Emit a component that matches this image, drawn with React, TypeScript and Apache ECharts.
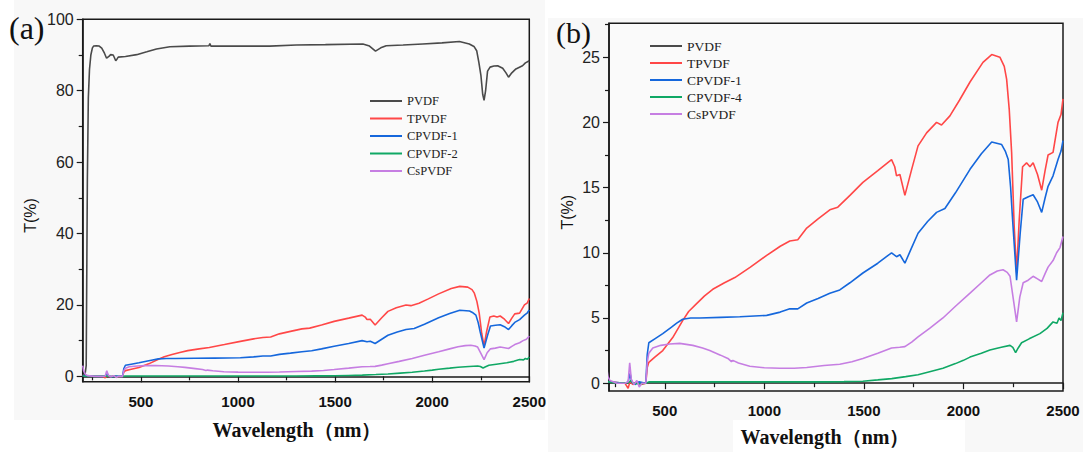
import React, { useEffect, useRef } from "react";
import * as echarts from "echarts";

// ---- data: [wavelength (nm), T (%)] ----
const PVDF: number[][] = [
  [200, 0.3], [212, 0.5], [218, 3], [224, 55], [229, 78], [235, 86], [242, 90], [250, 92], [256, 92.5], [270, 92.6],
  [285, 92.5], [298, 91.9], [312, 90.5], [323, 89.1], [335, 89.6], [344, 90.1], [357, 90.0], [363, 89.3],
  [370, 88.4], [377, 88.9], [383, 89.4], [420, 89.6], [478, 90.1], [530, 90.9], [580, 91.7], [649, 92.3],
  [750, 92.5], [850, 92.6], [855, 93.2], [860, 92.5], [1000, 92.5], [1163, 92.5], [1300, 92.8], [1450, 92.9],
  [1643, 93.1], [1677, 92.5], [1708, 91.1], [1735, 92.0], [1763, 92.6], [1850, 92.8], [1951, 93.1],
  [2050, 93.4], [2140, 93.8], [2191, 93.1], [2215, 92.4], [2229, 91.2], [2240, 88], [2251, 84.2], [2260, 79],
  [2267, 77.3], [2275, 80], [2285, 85.5], [2298, 86.6], [2318, 86.9], [2337, 87.0], [2363, 86.3], [2380, 85.0],
  [2393, 83.8], [2410, 85.0], [2431, 86.1], [2465, 87.0], [2480, 87.8], [2500, 88.4],
];

const TPVDF: number[][] = [
  [200, 0.2], [220, 0.1], [300, 0], [316, -0.4], [325, 0.1], [340, -0.1], [360, 0.1], [380, -0.1], [405, 0],
  [412, 1.2], [420, 1.6], [450, 2.0], [490, 2.5], [540, 3.5], [590, 4.8], [620, 5.5], [660, 6.1], [700, 6.7],
  [741, 7.2], [800, 7.7], [852, 8.1], [930, 8.9], [1012, 9.8], [1080, 10.5], [1128, 10.9], [1168, 11.0],
  [1213, 11.9], [1270, 12.6], [1329, 13.3], [1369, 13.5], [1430, 14.4], [1495, 15.4], [1570, 16.3],
  [1639, 17.15], [1655, 16.6], [1664, 15.9], [1681, 16.0], [1706, 14.4], [1740, 16.4], [1772, 18.2],
  [1815, 19.2], [1865, 20.0], [1890, 19.8], [1932, 20.5], [1980, 21.7], [2033, 23.1], [2098, 24.6],
  [2142, 25.2], [2183, 25.0], [2205, 24.3], [2217, 23.3], [2230, 21], [2242, 17.7], [2255, 12], [2267, 8.5],
  [2280, 12.5], [2297, 16.6], [2317, 16.9], [2334, 16.6], [2350, 16.9], [2372, 16.0], [2393, 14.8],
  [2410, 16.3], [2425, 17.5], [2450, 17.7], [2475, 20.0], [2490, 20.6], [2500, 21.8],
];

const CPVDF1: number[][] = [
  [200, 0.2], [220, 0.1], [300, 0], [316, 0.1], [326, 0.75], [334, 0.1], [350, -0.1], [370, 0.1], [405, 0],
  [412, 2.2], [420, 3.1], [450, 3.4], [490, 3.8], [534, 4.3], [560, 4.6], [590, 4.9], [630, 5.0], [676, 5.0],
  [780, 5.05], [877, 5.1], [1012, 5.2], [1080, 5.45], [1128, 5.7], [1168, 5.7], [1213, 6.15], [1270, 6.5],
  [1329, 6.9], [1379, 7.15], [1430, 7.7], [1495, 8.45], [1570, 9.2], [1639, 10.0], [1664, 9.7], [1681, 9.85],
  [1706, 9.2], [1740, 10.4], [1772, 11.5], [1820, 12.4], [1865, 13.1], [1907, 13.4], [1960, 14.6],
  [2033, 16.4], [2090, 17.6], [2142, 18.5], [2192, 18.3], [2210, 17.8], [2225, 17.15], [2237, 15.0],
  [2247, 12.5], [2267, 7.9], [2285, 11.5], [2300, 14.1], [2326, 14.3], [2350, 14.45], [2372, 13.9],
  [2393, 13.1], [2410, 14.2], [2425, 15.1], [2450, 15.9], [2475, 17.15], [2490, 17.8], [2500, 18.6],
];

const CPVDF_GREEN: number[][] = [
  [200, 0.1], [220, 0.1], [260, 0], [320, 0.05], [330, 0.2], [340, 0], [380, -0.05], [405, 0], [420, 0.1],
  [700, 0.1], [1000, 0.1], [1300, 0.1], [1400, 0.12], [1495, 0.15], [1570, 0.25], [1640, 0.35],
  [1710, 0.5], [1772, 0.65], [1835, 0.9], [1897, 1.15], [1960, 1.5], [2000, 1.75], [2033, 2.0], [2090, 2.3],
  [2133, 2.55], [2190, 2.75], [2234, 2.9], [2248, 2.75], [2262, 2.35], [2275, 2.7], [2292, 3.1],
  [2330, 3.4], [2384, 3.8], [2420, 4.2], [2450, 4.7], [2470, 4.6], [2480, 5.0], [2490, 4.8], [2500, 5.4],
];

const CSPVDF: number[][] = [
  [200, 3.0], [205, 1.5], [215, 0.5], [225, 0.2], [260, 0], [300, 0], [316, 0.1], [324, 1.56], [332, 0.3],
  [345, -0.1], [360, 0.2], [372, -0.3], [385, 0], [405, 0], [412, 1.6], [420, 2.3], [440, 2.7], [480, 2.9],
  [525, 3.0], [575, 3.05], [641, 2.9], [690, 2.7], [726, 2.5], [780, 2.15], [817, 1.9], [835, 1.65],
  [842, 1.75], [870, 1.55], [927, 1.3], [1000, 1.18], [1078, 1.15], [1150, 1.15], [1213, 1.2], [1300, 1.35],
  [1379, 1.45], [1440, 1.65], [1495, 1.9], [1570, 2.3], [1639, 2.7], [1680, 2.75], [1706, 2.8], [1740, 3.15],
  [1772, 3.55], [1830, 4.2], [1897, 5.0], [1960, 5.9], [2033, 6.9], [2090, 7.7], [2133, 8.3], [2170, 8.6],
  [2199, 8.7], [2220, 8.5], [2234, 8.2], [2250, 6.5], [2267, 4.7], [2283, 6.6], [2300, 7.7], [2325, 7.9],
  [2350, 8.2], [2372, 8.0], [2393, 7.8], [2410, 8.4], [2425, 8.9], [2450, 9.4], [2468, 10.0], [2485, 10.4],
  [2500, 11.25],
];

// ---- names & ticks ----
const NAMES_A = ["PVDF", "TPVDF", "CPVDF-1", "CPVDF-2", "CsPVDF"];
const NAMES_B = ["PVDF", "TPVDF", "CPVDF-1", "CPVDF-4", "CsPVDF"];
const COLORS = ["#4a4a4a", "#ff4747", "#1567dc", "#10a865", "#c67ee2"];
const X_MAJOR = [500, 1000, 1500, 2000, 2500];
const X_MINOR = [250, 750, 1250, 1750, 2250];
const YA_MAJOR = [0, 20, 40, 60, 80, 100];
const YA_MINOR = [10, 30, 50, 70, 90];
const YB_MAJOR = [0, 5, 10, 15, 20, 25];
const YB_MINOR = [2.5, 7.5, 12.5, 17.5, 22.5, 27.5];

const SANS = "Liberation Sans, Arial, sans-serif";
const SERIF = "Liberation Serif, Times New Roman, serif";
const AXIS_COLOR = "#1a1a1a";

function majorX(gridIndex: number, min: number, nameGap: number, padRight: number) {
  return {
    type: "value", gridIndex, min, max: 2500, position: "bottom",
    name: "Wavelength（nm）", nameLocation: "middle", nameGap,
    nameTextStyle: { fontFamily: SERIF, fontWeight: "bold", fontSize: 20, color: "#111", padding: [0, padRight, 0, 0] },
    axisLine: { lineStyle: { color: AXIS_COLOR, width: 1.5 } },
    axisTick: { customValues: X_MAJOR, length: 6, lineStyle: { color: AXIS_COLOR, width: 1.2 } },
    axisLabel: {
      customValues: X_MAJOR, formatter: (v: number) => String(v),
      fontFamily: SANS, fontWeight: "bold", fontSize: 15, color: "#111", margin: 12,
    },
    splitLine: { show: false },
  };
}
function minorX(gridIndex: number, min: number) {
  return {
    type: "value", gridIndex, min, max: 2500, position: "bottom",
    axisLine: { show: false },
    axisTick: { customValues: X_MINOR, length: 4, lineStyle: { color: AXIS_COLOR, width: 1.2 } },
    axisLabel: { show: false }, splitLine: { show: false },
  };
}
function majorY(gridIndex: number, min: number, max: number, ticks: number[], nameGap: number, pad: number[]) {
  return {
    type: "value", gridIndex, min, max, position: "left",
    name: "T(%)", nameLocation: "middle", nameGap,
    nameTextStyle: { fontFamily: SANS, fontSize: 16, color: "#111", padding: pad },
    axisLine: { show: true, lineStyle: { color: AXIS_COLOR, width: 1.5 } },
    axisTick: { show: true, customValues: ticks, length: 6, lineStyle: { color: AXIS_COLOR, width: 1.2 } },
    axisLabel: { customValues: ticks, formatter: (v: number) => String(v), fontFamily: SANS, fontSize: 16, color: "#222", margin: 9 },
    splitLine: { show: false },
  };
}
function minorY(gridIndex: number, min: number, max: number, ticks: number[]) {
  return {
    type: "value", gridIndex, min, max, position: "left",
    axisLine: { show: false },
    axisTick: { show: true, customValues: ticks, length: 4, lineStyle: { color: AXIS_COLOR, width: 1.2 } },
    axisLabel: { show: false }, splitLine: { show: false },
  };
}

function makeSeries(names: string[], datas: number[][][], xi: number, yi: number) {
  return names.map((n, i) => ({
    type: "line", name: n, xAxisIndex: xi, yAxisIndex: yi, data: datas[i],
    showSymbol: false, symbol: "none", color: COLORS[i],
    lineStyle: { color: COLORS[i], width: 1.6 }, itemStyle: { color: COLORS[i] },
  }));
}

export default function App() {
  const ref = useRef<HTMLDivElement>(null);
  useEffect(() => {
    const chart = echarts.init(ref.current!, null, { renderer: "svg" });
    chart.setOption({
      animation: false,
      backgroundColor: "#ffffff",
      graphic: [
        { type: "rect", z: -100, shape: { x: 14, y: 0, width: 531, height: 420 }, style: { fill: "#f8f8f8" } },
        { type: "rect", z: -100, shape: { x: 548, y: 18, width: 535, height: 434 }, style: { fill: "#f8f8f8" } },
        { type: "rect", z: -99, shape: { x: 733, y: 420, width: 232, height: 32 }, style: { fill: "#ffffff" } },
        { type: "text", left: 9, top: 12, style: { text: "(a)", font: `32px ${SERIF}`, fill: "#111" } },
        { type: "text", left: 556, top: 17, style: { text: "(b)", font: `30px ${SERIF}`, fill: "#111" } },
      ],
      legend: [
        {
          orient: "vertical", left: 365, top: 89, itemWidth: 32, itemHeight: 2, itemGap: 3.5, icon: "rect",
          data: NAMES_A, selectedMode: false,
          textStyle: { fontFamily: SERIF, fontSize: 12.5, lineHeight: 14, color: "#222" },
        },
        {
          orient: "vertical", left: 645, top: 34, itemWidth: 32, itemHeight: 2, itemGap: 3, icon: "rect",
          data: NAMES_B, selectedMode: false,
          textStyle: { fontFamily: SERIF, fontSize: 13.5, lineHeight: 14, color: "#222" },
        },
      ],
      grid: [
        { left: 82.7, right: 553.7, top: 19.3, bottom: 70.3, show: true, backgroundColor: "#fafafa", borderColor: AXIS_COLOR, borderWidth: 1.5 },
        { left: 609, right: 20, top: 23.3, bottom: 61, show: true, backgroundColor: "#fafafa", borderColor: AXIS_COLOR, borderWidth: 1.5 },
      ],
      xAxis: [majorX(0, 200, 38, 18), minorX(0, 200), majorX(1, 220, 36, 22), minorX(1, 220)],
      yAxis: [
        majorY(0, -1.5, 100, YA_MAJOR, 44, [0, 30, 0, 0]),
        minorY(0, -1.5, 100, YA_MINOR),
        majorY(1, -0.6, 27.6, YB_MAJOR, 34, [0, 10, 0, 0]),
        minorY(1, -0.6, 27.6, YB_MINOR),
      ],
      series: [
        ...makeSeries(NAMES_A, [PVDF, TPVDF, CPVDF1, CPVDF_GREEN, CSPVDF], 0, 0),
        ...makeSeries(NAMES_B, [[], TPVDF, CPVDF1, CPVDF_GREEN, CSPVDF], 2, 2),
      ],
    });
    return () => chart.dispose();
  }, []);
  return <div ref={ref} style={{ position: "fixed", left: 0, top: 0, width: 1083, height: 452 }} />;
}
